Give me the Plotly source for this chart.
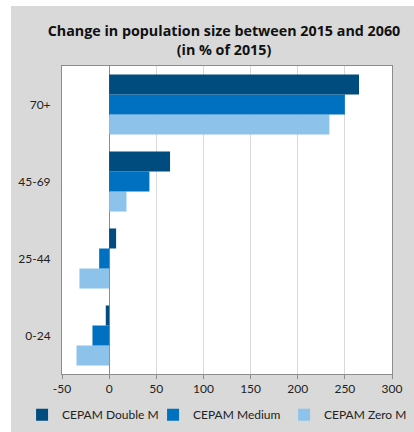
"""
Change in population size between 2015 and 2060 (in % of 2015)
Grouped horizontal bars for three CEPAM scenarios
"""
import plotly.graph_objects as go

age_groups = ['0-24', '25-44', '45-69', '70+']
double_m = [-3.6, 7.4, 64.6, 265]
medium = [-17.7, -10.6, 42.7, 250]
zero_m = [-34.6, -31.5, 18.4, 233.6]
x_ticks = [-50, 0, 50, 100, 150, 200, 250, 300]

series = [
    ('CEPAM Zero M', zero_m, '#8DC3EB'),
    ('CEPAM Medium', medium, '#0070C0'),
    ('CEPAM Double M', double_m, '#004C7F'),
]

FONT = 'Lato, "Open Sans", sans-serif'
AXIS_GREY = '#8C8C8C'


def create_chart():
    fig = go.Figure()

    # plotly stacks horizontal groups bottom-up, so add Zero M first
    for name, values, color in series:
        fig.add_trace(go.Bar(
            y=age_groups,
            x=values,
            name=name,
            orientation='h',
            marker=dict(color=color, line=dict(width=0)),
            hovertemplate='%{y}: %{x}<extra>' + name + '</extra>',
        ))

    # thin white strips left and top of the grey chart area
    fig.add_shape(type='rect', xref='paper', yref='paper',
                  x0=-0.3, x1=-0.1545, y0=-0.3, y1=1.3,
                  fillcolor='white', line=dict(width=0), layer='above')
    fig.add_shape(type='rect', xref='paper', yref='paper',
                  x0=-0.3, x1=1.3, y0=1.195, y1=1.3,
                  fillcolor='white', line=dict(width=0), layer='above')

    fig.update_layout(
        width=414,
        height=432,
        margin=dict(l=62, r=22, t=66, b=58, autoexpand=False),
        paper_bgcolor='#D9D9D9',
        plot_bgcolor='white',
        font=dict(family=FONT, size=12, color='#222222'),
        title=dict(
            text='Change in population size between 2015 and 2060<br>(in % of 2015)',
            x=0.541, xanchor='center', xref='container',
            y=1 - 36 / 432, yanchor='top', yref='container',
            font=dict(family='"Open Sans", sans-serif', size=14.3,
                      color='#111111', weight='bold'),
        ),
        barmode='group',
        bargap=0.22,
        bargroupgap=0,
        legend=dict(
            orientation='h',
            traceorder='reversed',
            x=-0.121, xanchor='left',
            y=-0.085, yanchor='top',
            font=dict(size=12),
            bgcolor='rgba(0,0,0,0)',
            itemwidth=30,
            entrywidth=86,
        ),
        xaxis=dict(
            range=[-50, 300],
            tickvals=x_ticks,
            ticktext=[str(v) for v in x_ticks],
            showgrid=True,
            gridcolor='#D9D9D9',
            zeroline=True,
            zerolinecolor=AXIS_GREY,
            zerolinewidth=1,
            showline=True,
            mirror=True,
            linecolor=AXIS_GREY,
            ticks='outside',
            ticklen=4,
            tickcolor=AXIS_GREY,
            fixedrange=True,
        ),
        yaxis=dict(
            categoryorder='array',
            categoryarray=age_groups,
            showline=True,
            mirror=True,
            linecolor=AXIS_GREY,
            ticks='outside',
            ticklen=8,
            tickcolor='rgba(0,0,0,0)',
            showgrid=False,
            fixedrange=True,
        ),
    )

    # drop the browser's default body margin so the chart sits at (0, 0)
    fig.write_html('out.html', config={'displayModeBar': False},
                   post_script="document.body.style.margin='0';")
    return fig


if __name__ == '__main__':
    create_chart()
